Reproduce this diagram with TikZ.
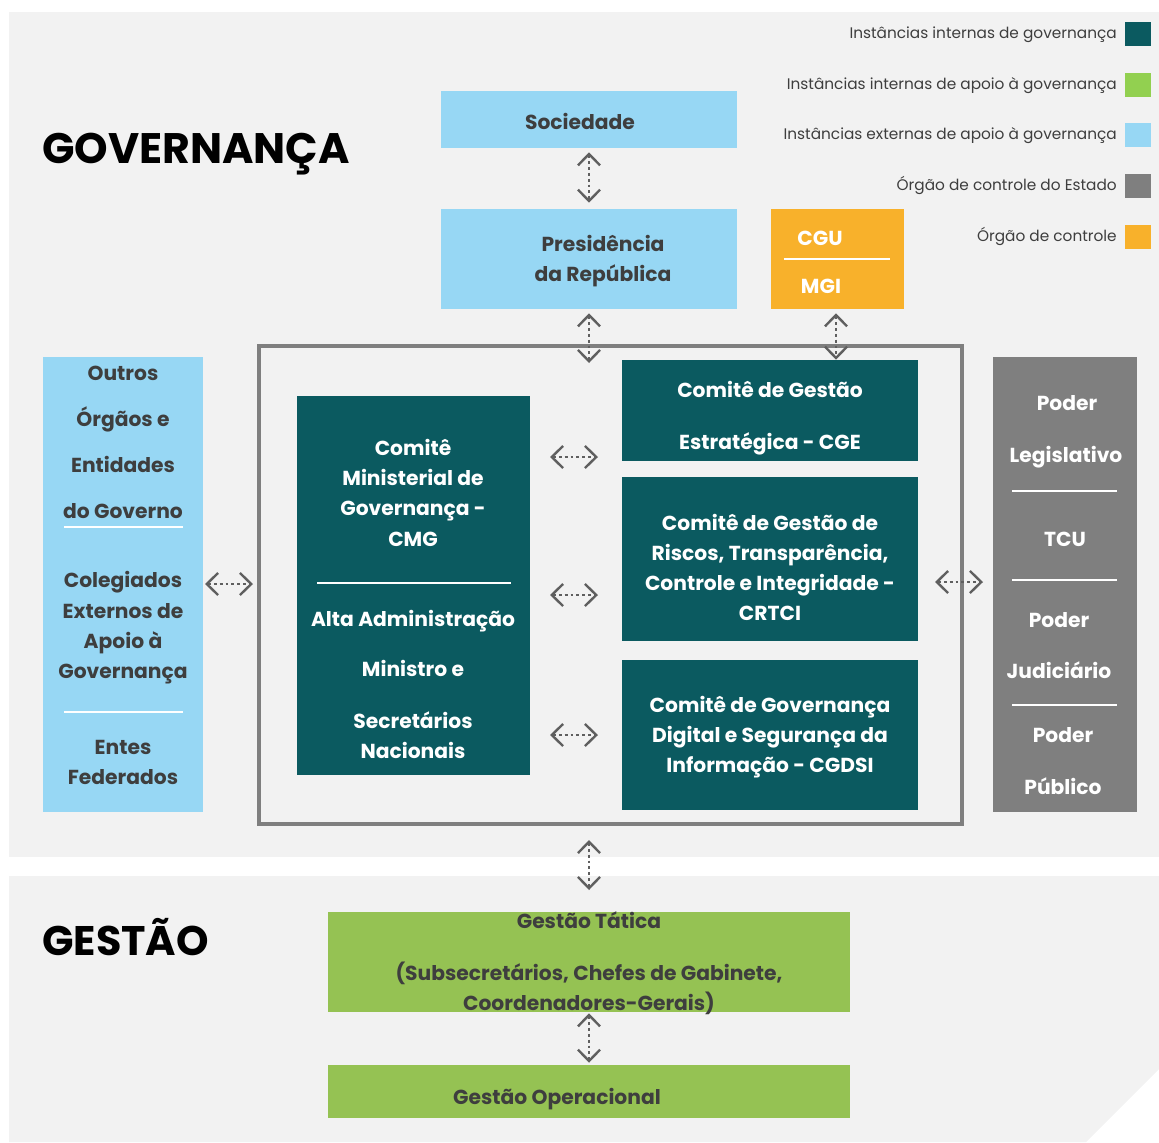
\documentclass[tikz,border=0pt]{standalone}
\usepackage{fontspec}
\setmainfont{Poppins}
\usetikzlibrary{arrows.meta,fit}
\definecolor{cteal}{HTML}{0B5A60}
\definecolor{cgreenL}{HTML}{92D050}
\definecolor{cgreen}{HTML}{95C253}
\definecolor{cblue}{HTML}{97D7F4}
\definecolor{cgray}{HTML}{7F7F7F}
\definecolor{corange}{HTML}{F8B12B}
\definecolor{cbg}{HTML}{F2F2F2}
\definecolor{ctext}{HTML}{3E3E3E}
\definecolor{carrow}{HTML}{5F5F5F}
\begin{document}
\begin{tikzpicture}[x=0.75pt,y=-0.75pt,
  box/.style={inner sep=0pt, draw=none},
  btxt/.style={font=\bfseries\fontsize{15.2}{18}\selectfont, inner sep=0pt, text height=12pt, text depth=0pt, anchor=center},
  dtxt/.style={btxt, text=ctext},
  wtxt/.style={btxt, text=white},
  legtxt/.style={font=\fontsize{11.5}{13}\selectfont, text=ctext, inner sep=0pt, text height=8.6pt, text depth=0pt, anchor=east},
  legsq/.style={inner sep=0pt, minimum width=19.5pt, minimum height=18pt, draw=none},
  sep/.style={draw=white, line width=1.3pt},
  big/.style={font=\bfseries\fontsize{32}{36}\selectfont, text=black, inner sep=0pt, text height=23pt, text depth=0pt, anchor=west},
  bigb/.style={big, font=\bfseries\fontsize{31}{36}\selectfont},
  biarr/.style={draw=carrow, line width=1.9pt, dash pattern=on 2.2pt off 2.2pt,
     {Straight Barb[length=8.5pt,width=16.5pt,line width=1.8pt]}-{Straight Barb[length=8.5pt,width=16.5pt,line width=1.8pt]}}
]
\useasboundingbox (0,0) rectangle (1159,1142);
% backgrounds
\fill[cbg] (9,12) rectangle (1159,857);
\fill[cbg] (9,876) -- (1159,876) -- (1159,1069) -- (1086,1142) -- (9,1142) -- cycle;

% titles
\node[big] (tgov) at (42,148) {GOVERNANÇA};
\node[bigb] (tges) at (42,940) {GESTÃO};

% legend
\node[legtxt] (l1) at (1117,33) {Instâncias internas de governança};
\node[legsq, fill=cteal] (s1) at (1138,34) {};
\node[legtxt] (l2) at (1117,84) {Instâncias internas de apoio à governança};
\node[legsq, fill=cgreenL] (s2) at (1138,85) {};
\node[legtxt] (l3) at (1117,134) {Instâncias externas de apoio à governança};
\node[legsq, fill=cblue] (s3) at (1138,135) {};
\node[legtxt] (l4) at (1117,185) {Órgão de controle do Estado};
\node[legsq, fill=cgray] (s4) at (1138,186) {};
\node[legtxt] (l5) at (1117,236) {Órgão de controle};
\node[legsq, fill=corange] (s5) at (1138,237) {};

% main boxes
\node[box, fill=cblue, fit={(441,91) (737,148)}] (soc) {};
\node[dtxt] (tsoc) at (580,121) {Sociedade};
\node[box, fill=cblue, fit={(441,209) (737,309)}] (pres) {};
\node[dtxt] (tpres1) at (603,243) {Presidência};
\node[dtxt] (tpres2) at (603,273) {da República};
\node[box, fill=corange, fit={(771,209) (904,309)}] (cgu) {};
\node[wtxt] (tcgu) at (820,237) {CGU};
\draw[sep] (784,259) -- (890,259);
\node[wtxt] (tmgi) at (821,285) {MGI};

% big frame
\node[box, draw=cgray, line width=2.3pt, fit={(259,346) (962,824)}] (frame) {};

% left blue
\node[box, fill=cblue, fit={(43,357) (203,812)}] (outros) {};
\node[dtxt] (o1) at (123,372) {Outros};
\node[dtxt] (o2) at (123,418) {Órgãos e};
\node[dtxt] (o3) at (123,464) {Entidades};
\node[dtxt] (o4) at (123,510) {do Governo};
\draw[sep] (64,527) -- (183,527);
\node[dtxt] (o5) at (123,579) {Colegiados};
\node[dtxt] (o6) at (123,610) {Externos de};
\node[dtxt] (o7) at (123,640) {Apoio à};
\node[dtxt] (o8) at (123,670) {Governança};
\draw[sep] (64,712) -- (183,712);
\node[dtxt] (o9) at (123,746) {Entes};
\node[dtxt] (o10) at (123,776) {Federados};

% CMG
\node[box, fill=cteal, fit={(297,396) (530,775)}] (cmg) {};
\node[wtxt] (c1) at (413,447) {Comitê};
\node[wtxt] (c2) at (413,477) {Ministerial de};
\node[wtxt] (c3) at (413,507) {Governança -};
\node[wtxt] (c4) at (413,538) {CMG};
\draw[sep] (317,583) -- (511,583);
\node[wtxt] (c5) at (413,618) {Alta Administração};
\node[wtxt] (c6) at (413,668) {Ministro e};
\node[wtxt] (c7) at (413,720) {Secretários};
\node[wtxt] (c8) at (413,750) {Nacionais};

% right teal
\node[box, fill=cteal, fit={(622,360) (918,461)}] (cge) {};
\node[wtxt] (g1) at (770,389) {Comitê de Gestão};
\node[wtxt] (g2) at (770,441) {Estratégica - CGE};
\node[box, fill=cteal, fit={(622,477) (918,641)}] (crtci) {};
\node[wtxt] (r1) at (770,522) {Comitê de Gestão de};
\node[wtxt] (r2) at (770,552) {Riscos, Transparência,};
\node[wtxt] (r3) at (770,582) {Controle e Integridade -};
\node[wtxt] (r4) at (770,612) {CRTCI};
\node[box, fill=cteal, fit={(622,660) (918,810)}] (cgdsi) {};
\node[wtxt] (d1) at (770,704) {Comitê de Governança};
\node[wtxt] (d2) at (770,734) {Digital e Segurança da};
\node[wtxt] (d3) at (770,764) {Informação - CGDSI};

% right gray
\node[box, fill=cgray, fit={(993,357) (1137,812)}] (poder) {};
\node[wtxt] (p1) at (1067,402) {Poder};
\node[wtxt] (p2) at (1066,454) {Legislativo};
\draw[sep] (1012,491) -- (1117,491);
\node[wtxt] (p3) at (1065,538) {TCU};
\draw[sep] (1012,580) -- (1117,580);
\node[wtxt] (p4) at (1059,619) {Poder};
\node[wtxt] (p5) at (1059,670) {Judiciário};
\draw[sep] (1012,705) -- (1117,705);
\node[wtxt] (p6) at (1063,734) {Poder};
\node[wtxt] (p7) at (1063,786) {Público};

% gestao
\node[box, fill=cgreen, fit={(328,912) (850,1012)}] (tatica) {};
\node[dtxt] (t1) at (589,920) {Gestão Tática};
\node[dtxt] (t2) at (589,972) {(Subsecretários, Chefes de Gabinete,};
\node[dtxt] (t3) at (589,1002) {Coordenadores-Gerais)};
\node[box, fill=cgreen, fit={(328,1065) (850,1118)}] (oper) {};
\node[dtxt] (t4) at (557,1096) {Gestão Operacional};

% connector end coordinates
\coordinate (a2e) at (589,363);
\coordinate (a4s) at (589,840);
\coordinate (a4e) at (589,890);
\coordinate (h1s) at (550,457); \coordinate (h1e) at (598,457);
\coordinate (h2s) at (550,595); \coordinate (h2e) at (598,595);
\coordinate (h3s) at (550,735); \coordinate (h3e) at (598,735);
\coordinate (hls) at (205,584); \coordinate (hle) at (253,584);
\coordinate (hrs) at (935,582); \coordinate (hre) at (983,582);

% arrows
\draw[biarr, shorten <=3pt, shorten >=4.5pt] (soc.south) -- (pres.north);
\draw[biarr, shorten <=3pt] (pres.south) -- (a2e);
\draw[biarr, shorten <=3pt] (cgu.south -| 836,0) -- (cge.north -| 836,0);
\draw[biarr] (a4s) -- (a4e);
\draw[biarr, shorten <=0.75pt, shorten >=1.5pt] (tatica.south) -- (oper.north);
\draw[biarr] (h1s) -- (h1e);
\draw[biarr] (h2s) -- (h2e);
\draw[biarr] (h3s) -- (h3e);
\draw[biarr] (hls) -- (hle);
\draw[biarr] (hrs) -- (hre);
\end{tikzpicture}
\end{document}
